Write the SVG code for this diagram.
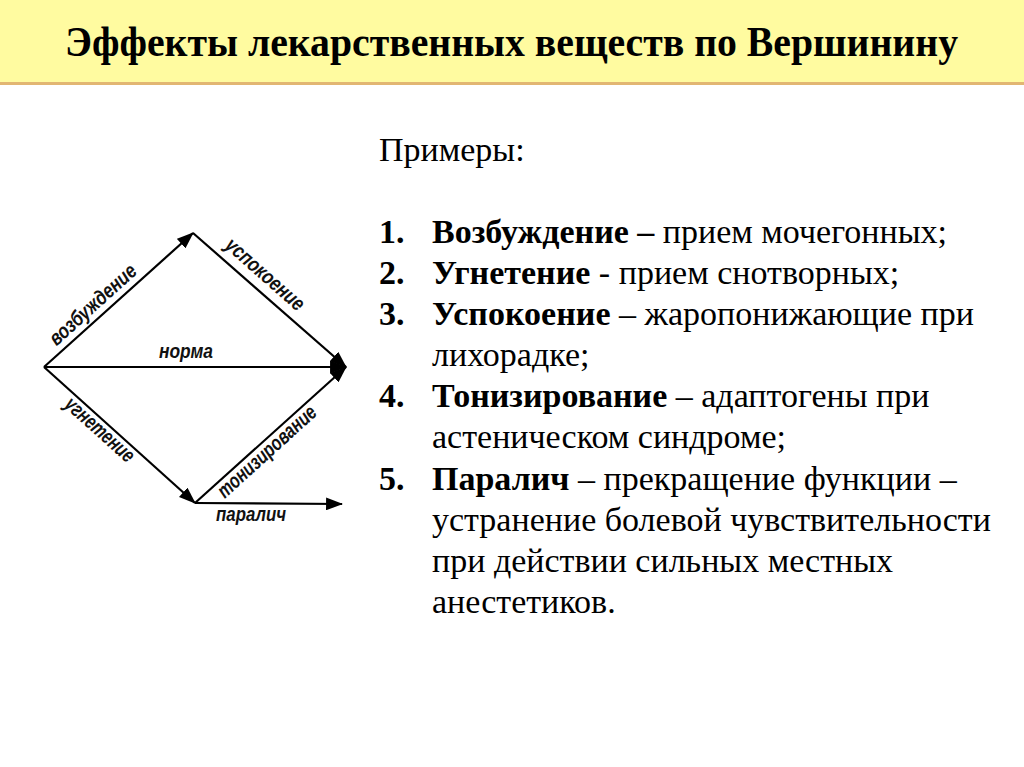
<svg xmlns="http://www.w3.org/2000/svg" width="1024" height="767" viewBox="0 0 1024 767">
<defs>
<style>
.title{font-family:"Liberation Serif","Times New Roman",serif;font-weight:bold;font-size:42px;fill:#000}
.body{font-family:"Liberation Serif","Times New Roman",serif;font-size:34px;fill:#000}
.b{font-weight:bold}
.lbl{font-family:"Liberation Sans",Arial,sans-serif;font-weight:bold;font-style:italic;font-size:21px;fill:#111;text-anchor:middle}
.edge{stroke:#000;stroke-width:2.2;fill:none;marker-end:url(#ah)}
</style>
<marker id="ah" viewBox="0 0 16 12" refX="15" refY="6" markerWidth="17" markerHeight="13" markerUnits="userSpaceOnUse" orient="auto">
<path d="M0,0 L16,6 L0,12 z" fill="#000"/>
</marker>
</defs>
<rect width="1024" height="767" fill="#fff"/>
<g id="header">
<rect x="0" y="0" width="1024" height="83" fill="#FFFBA0"/>
<rect x="0" y="82" width="1024" height="3" fill="#E2B673"/>
<text class="title" x="65" y="56" textLength="893" lengthAdjust="spacingAndGlyphs">Эффекты лекарственных веществ по Вершинину</text>
</g>
<g id="connectors">
<line class="edge" x1="44" y1="367" x2="193" y2="233"/>
<line class="edge" x1="193" y1="233" x2="346" y2="367"/>
<line class="edge" x1="44" y1="367" x2="346" y2="367"/>
<line class="edge" x1="44" y1="367" x2="195" y2="503"/>
<line class="edge" x1="195" y1="503" x2="346" y2="367"/>
<line class="edge" x1="195" y1="503" x2="342" y2="504"/>
</g>
<g id="labels">
<text class="lbl" transform="translate(102,315) rotate(-42) translate(0,-7)" textLength="110" lengthAdjust="spacingAndGlyphs">возбуждение</text>
<text class="lbl" transform="translate(254,287) rotate(41.4) translate(0,-10)" textLength="98" lengthAdjust="spacingAndGlyphs">успокоение</text>
<text class="lbl" x="186" y="358" textLength="54" lengthAdjust="spacingAndGlyphs">норма</text>
<text class="lbl" transform="translate(106,423) rotate(42) translate(0,16)" textLength="86" lengthAdjust="spacingAndGlyphs">угнетение</text>
<text class="lbl" transform="translate(260,444) rotate(-42.2) translate(0,17)" textLength="126" lengthAdjust="spacingAndGlyphs">тонизирование</text>
<text class="lbl" x="251" y="521" textLength="70" lengthAdjust="spacingAndGlyphs">паралич</text>
</g>
<g id="examples">
<text class="body" x="379" y="161">Примеры:</text>
<text class="body" y="243"><tspan class="b" x="379">1.</tspan><tspan x="432"><tspan class="b">Возбуждение –</tspan> прием мочегонных;</tspan></text>
<text class="body" y="284"><tspan class="b" x="379">2.</tspan><tspan x="432"><tspan class="b">Угнетение</tspan> - прием снотворных;</tspan></text>
<text class="body" y="325"><tspan class="b" x="379">3.</tspan><tspan x="432"><tspan class="b">Успокоение</tspan> – жаропонижающие при</tspan></text>
<text class="body" x="432" y="366">лихорадке;</text>
<text class="body" y="407"><tspan class="b" x="379">4.</tspan><tspan x="432"><tspan class="b">Тонизирование</tspan> – адаптогены при</tspan></text>
<text class="body" x="432" y="448">астеническом синдроме;</text>
<text class="body" y="490"><tspan class="b" x="379">5.</tspan><tspan x="432"><tspan class="b">Паралич</tspan> – прекращение функции –</tspan></text>
<text class="body" x="432" y="531">устранение болевой чувствительности</text>
<text class="body" x="432" y="572">при действии сильных местных</text>
<text class="body" x="432" y="613">анестетиков.</text>
</g>
</svg>
